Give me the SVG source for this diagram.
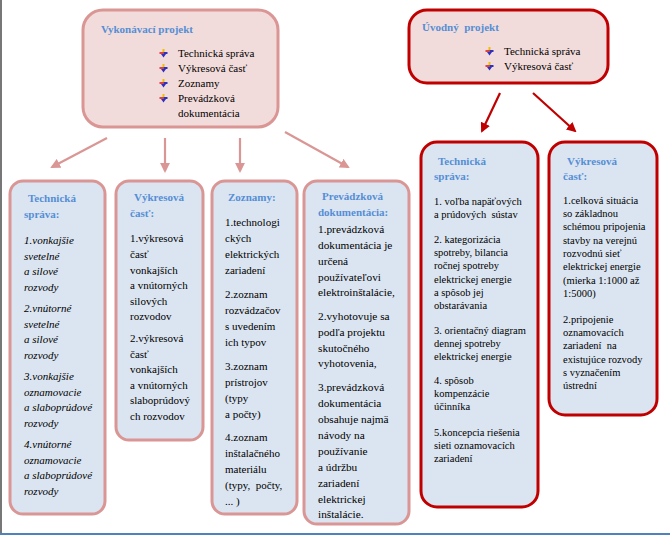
<svg xmlns="http://www.w3.org/2000/svg" xmlns:xlink="http://www.w3.org/1999/xlink" width="670" height="535" viewBox="0 0 670 535">
<style>
text{font-family:"Liberation Serif","Times New Roman",serif;font-size:11px;fill:#000;white-space:pre}
.t{font-weight:bold;fill:#558ed5}
.i{font-style:italic}
.s{font-size:10.5px}
.m{font-size:11.3px}
.pk{fill:#f2dcdb}
.bl{fill:#dbe5f1}
.ps{stroke:#d99694;stroke-width:3}
.rs{stroke:#c00000;stroke-width:3}
.ap{stroke:#d99694;stroke-width:2.2;fill:none;marker-end:url(#mp)}
.ar{stroke:#c00000;stroke-width:2.2;fill:none;marker-end:url(#mr)}
</style>
<defs>
<marker id="mp" viewBox="0 0 10 10" refX="8" refY="5" markerWidth="4.5" markerHeight="4.5" orient="auto" markerUnits="strokeWidth"><path d="M0,0 L10,5 L0,10 z" fill="#d99694"/></marker>
<marker id="mr" viewBox="0 0 10 10" refX="8" refY="5" markerWidth="4.5" markerHeight="4.5" orient="auto" markerUnits="strokeWidth"><path d="M0,0 L10,5 L0,10 z" fill="#c00000"/></marker>
<g id="bul">
<rect x="2.5" y="-4" width="2" height="6" fill="#f0c000"/>
<rect x="-0.5" y="-1" width="4" height="2" fill="#e04040"/>
<rect x="3.5" y="-1" width="4" height="2" fill="#3030c0"/>
<path d="M1,1 L6,1 L3.5,4.5 z" fill="#3030c0"/>
</g>
</defs>
<rect x="0" y="0" width="2" height="535" fill="#777"/>
<rect x="0" y="533" width="670" height="2" fill="#4f81bd"/>

<g id="connectors">
<line class="ap" x1="107" y1="138" x2="52" y2="167"/>
<line class="ap" x1="165" y1="138" x2="165" y2="171"/>
<line class="ap" x1="240" y1="138" x2="240" y2="171"/>
<line class="ap" x1="285" y1="132" x2="348" y2="167"/>
<line class="ar" x1="500" y1="93" x2="482" y2="131"/>
<line class="ar" x1="533" y1="93" x2="575" y2="131"/>
</g>

<g id="vykonavaci">
<rect class="pk ps" x="83" y="10" width="195" height="117" rx="20"/>
<text class="t" x="101" y="33">Vykonávací projekt</text>
<use xlink:href="#bul" x="160" y="53"/>
<use xlink:href="#bul" x="160" y="68"/>
<use xlink:href="#bul" x="160" y="83"/>
<use xlink:href="#bul" x="160" y="98"/>
<text x="178" y="57">Technická správa</text>
<text x="178" y="72">Výkresová časť</text>
<text x="178" y="87">Zoznamy</text>
<text x="178" y="102">Prevádzková</text>
<text x="178" y="117">dokumentácia</text>
</g>

<g id="uvodny">
<rect class="pk rs" x="409" y="10" width="199" height="73" rx="18"/>
<text class="t" x="422" y="31">Úvodný  projekt</text>
<use xlink:href="#bul" x="486" y="51"/>
<use xlink:href="#bul" x="486" y="66"/>
<text x="504" y="55">Technická správa</text>
<text x="504" y="70">Výkresová časť</text>
</g>

<g id="b1">
<rect class="bl ps" x="10" y="181" width="95" height="333" rx="13"/>
<text class="t" x="28" y="202">Technická</text>
<text class="t" x="24" y="218">správa:</text>
<text class="i" x="24" y="244">1.vonkajšie</text>
<text class="i" x="24" y="259.5">svetelné</text>
<text class="i" x="24" y="275">a silové</text>
<text class="i" x="24" y="290.5">rozvody</text>
<text class="i" x="24" y="312">2.vnútorné</text>
<text class="i" x="24" y="327.5">svetelné</text>
<text class="i" x="24" y="343">a silové</text>
<text class="i" x="24" y="358.5">rozvody</text>
<text class="i" x="24" y="380">3.vonkajšie</text>
<text class="i" x="24" y="395.5">oznamovacie</text>
<text class="i" x="24" y="411">a slaboprúdové</text>
<text class="i" x="24" y="426.5">rozvody</text>
<text class="i" x="24" y="448">4.vnútorné</text>
<text class="i" x="24" y="463.5">oznamovacie</text>
<text class="i" x="24" y="479">a slaboprúdové</text>
<text class="i" x="24" y="494.5">rozvody</text>
</g>

<g id="b2">
<rect class="bl ps" x="116" y="181" width="87" height="259" rx="13"/>
<text class="t" x="134" y="201">Výkresová</text>
<text class="t" x="130" y="217">časť:</text>
<text x="130" y="242">1.výkresová</text>
<text x="130" y="258">časť</text>
<text x="130" y="273.5">vonkajších</text>
<text x="130" y="289">a vnútorných</text>
<text x="130" y="304.5">silových</text>
<text x="130" y="320">rozvodov</text>
<text x="130" y="342">2.výkresová</text>
<text x="130" y="357.5">časť</text>
<text x="130" y="373">vonkajších</text>
<text x="130" y="388.5">a vnútorných</text>
<text x="130" y="404">slaboprúdový</text>
<text x="130" y="419.5">ch rozvodov</text>
</g>

<g id="b3">
<rect class="bl ps" x="212" y="181" width="85" height="333" rx="13"/>
<text class="t" x="228" y="201">Zoznamy:</text>
<text x="225" y="226">1.technologi</text>
<text x="225" y="242">ckých</text>
<text x="225" y="258">elektrických</text>
<text x="225" y="274">zariadení</text>
<text x="225" y="298">2.zoznam</text>
<text x="225" y="314">rozvádzačov</text>
<text x="225" y="330">s uvedením</text>
<text x="225" y="346">ich typov</text>
<text x="225" y="370">3.zoznam</text>
<text x="225" y="386">prístrojov</text>
<text x="225" y="402">(typy</text>
<text x="225" y="418">a počty)</text>
<text x="225" y="441">4.zoznam</text>
<text x="225" y="457">inštalačného</text>
<text x="225" y="473">materiálu</text>
<text x="225" y="489">(typy,  počty,</text>
<text x="225" y="505">... )</text>
</g>

<g id="b4">
<rect class="bl ps" x="304" y="181" width="105" height="343" rx="13"/>
<text class="t" x="322" y="200">Prevádzková</text>
<text class="t" x="318" y="216">dokumentácia:</text>
<text class="m" x="318" y="233">1.prevádzková</text>
<text class="m" x="318" y="249">dokumentácia je</text>
<text class="m" x="318" y="265">určená</text>
<text class="m" x="318" y="281">používateľovi</text>
<text class="m" x="318" y="296">elektroinštalácie,</text>
<text class="m" x="318" y="320">2.vyhotovuje sa</text>
<text class="m" x="318" y="336">podľa projektu</text>
<text class="m" x="318" y="352">skutočného</text>
<text class="m" x="318" y="367">vyhotovenia,</text>
<text class="m" x="318" y="391">3.prevádzková</text>
<text class="m" x="318" y="407">dokumentácia</text>
<text class="m" x="318" y="423">obsahuje najmä</text>
<text class="m" x="318" y="439">návody na</text>
<text class="m" x="318" y="455">používanie</text>
<text class="m" x="318" y="471">a údržbu</text>
<text class="m" x="318" y="487">zariadení</text>
<text class="m" x="318" y="503">elektrickej</text>
<text class="m" x="318" y="518">inštalácie.</text>
</g>

<g id="b5">
<rect class="bl rs" x="421" y="142" width="117" height="365" rx="16"/>
<text class="t" x="438" y="165">Technická</text>
<text class="t" x="434" y="180">správa:</text>
<text class="s" x="434" y="204.5">1. voľba napäťových</text>
<text class="s" x="434" y="218">a prúdových  sústav</text>
<text class="s" x="434" y="242.5">2. kategorizácia</text>
<text class="s" x="434" y="256">spotreby, bilancia</text>
<text class="s" x="434" y="269">ročnej spotreby</text>
<text class="s" x="434" y="282.5">elektrickej energie</text>
<text class="s" x="434" y="295.5">a spôsob jej</text>
<text class="s" x="434" y="309">obstarávania</text>
<text class="s" x="434" y="333.5">3. orientačný diagram</text>
<text class="s" x="434" y="347">dennej spotreby</text>
<text class="s" x="434" y="360">elektrickej energie</text>
<text class="s" x="434" y="383.5">4. spôsob</text>
<text class="s" x="434" y="397">kompenzácie</text>
<text class="s" x="434" y="410">účinníka</text>
<text class="s" x="434" y="435.5">5.koncepcia riešenia</text>
<text class="s" x="434" y="449">sieti oznamovacích</text>
<text class="s" x="434" y="462">zariadení</text>
</g>

<g id="b6">
<rect class="bl rs" x="549" y="142" width="108" height="273" rx="16"/>
<text class="t" x="567" y="165">Výkresová</text>
<text class="t" x="563" y="180">časť:</text>
<text class="s" x="563" y="203.5">1.celková situácia</text>
<text class="s" x="563" y="217">so základnou</text>
<text class="s" x="563" y="230">schémou pripojenia</text>
<text class="s" x="563" y="243.5">stavby na verejnú</text>
<text class="s" x="563" y="257">rozvodnú sieť</text>
<text class="s" x="563" y="270">elektrickej energie</text>
<text class="s" x="563" y="283.5">(mierka 1:1000 až</text>
<text class="s" x="563" y="297">1:5000)</text>
<text class="s" x="563" y="322.5">2.pripojenie</text>
<text class="s" x="563" y="336">oznamovacích</text>
<text class="s" x="563" y="349">zariadení  na</text>
<text class="s" x="563" y="362.5">existujúce rozvody</text>
<text class="s" x="563" y="376">s vyznačením</text>
<text class="s" x="563" y="389">ústrední</text>
</g>
</svg>
